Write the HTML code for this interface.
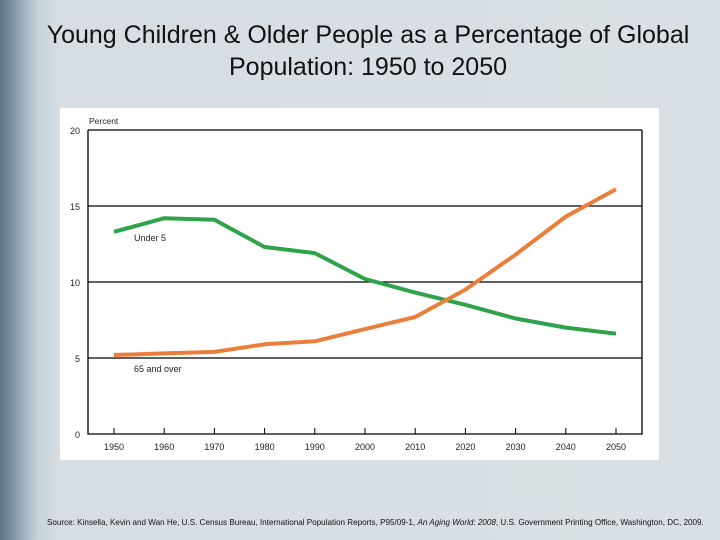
<!DOCTYPE html>
<html><head><meta charset="utf-8"><style>
body{margin:0;width:720px;height:540px;overflow:hidden;font-family:"Liberation Sans",sans-serif;}
#slide{position:relative;width:720px;height:540px;background:linear-gradient(90deg,#5d7485 0px,#8ea2b0 18px,#c9d3da 38px,#d6dee3 60px,#d8e0e5 100%);}
#title{position:absolute;left:8px;top:19px;width:720px;text-align:center;font-size:25px;line-height:32px;color:#111;}
#src{position:absolute;left:47px;top:518px;font-size:8.1px;color:#111;white-space:nowrap;}
svg{position:absolute;left:0;top:0;}
</style></head><body>
<div id="slide">
<div id="title">Young Children &amp; Older People as a Percentage of Global Population: 1950 to 2050</div>
<svg id="chart" width="720" height="540"></svg>
<div id="src">Source: Kinsella, Kevin and Wan He, U.S. Census Bureau, International Population Reports, P95/09-1, <i>An Aging World: 2008</i>, U.S. Government Printing Office, Washington, DC, 2009.</div>
</div>
<script>
const years=[1950,1960,1970,1980,1990,2000,2010,2020,2030,2040,2050];
const under5=[13.3,14.2,14.1,12.3,11.9,10.2,9.3,8.5,7.6,7.0,6.6];
const over65=[5.2,5.3,5.4,5.9,6.1,6.9,7.7,9.5,11.8,14.3,16.1];
const yTicks=[0,5,10,15,20];
const NS="http://www.w3.org/2000/svg";
const svg=document.getElementById('chart');
const X=v=>114+(v-1950)*5.02;
const Y=v=>434-v*15.2;
function mk(t,a,p){const e=document.createElementNS(NS,t);for(const k in a)e.setAttribute(k,a[k]);(p||svg).appendChild(e);return e;}
const bg=mk('rect',{x:60,y:108,width:599,height:352,fill:'#fff'});


yTicks.forEach(t=>{
  if(t>0){const l=mk('line',{x1:88,x2:642,y1:Y(t),y2:Y(t),stroke:'#000','stroke-width':1.2});
  
  }
  const tx=mk('text',{x:80,y:Y(t)+4,'text-anchor':'end','font-size':9,fill:'#222'});tx.textContent=t;
  
  
});
const fr=mk('path',{d:'M88 130V434H642V130',fill:'none',stroke:'#000','stroke-width':1.3});


const pl=mk('text',{x:89,y:124,'font-size':8.5,fill:'#222'});pl.textContent='Percent';


years.forEach(y=>{
  const tk=mk('line',{x1:X(y),x2:X(y),y1:428,y2:434,stroke:'#000','stroke-width':1});
  
  
  const tx=mk('text',{x:X(y),y:450,'text-anchor':'middle','font-size':9,fill:'#222'});tx.textContent=y;
  
  
});
function line(vals,col,name){
  const d=vals.map((v,i)=>(i?'L':'M')+X(years[i]).toFixed(1)+' '+Y(v).toFixed(1)).join('');
  const p=mk('path',{d:d,fill:'none',stroke:col,'stroke-width':4,'stroke-linejoin':'round'});
  
  
}
line(under5,'#2ea34a','line-under-5');
line(over65,'#ea7f3c','line-65-and-over');
const l1=mk('text',{x:134,y:241,'font-size':9,fill:'#222'});l1.textContent='Under 5';


const l2=mk('text',{x:134,y:372,'font-size':9,fill:'#222'});l2.textContent='65 and over';


</script>
</body></html>
